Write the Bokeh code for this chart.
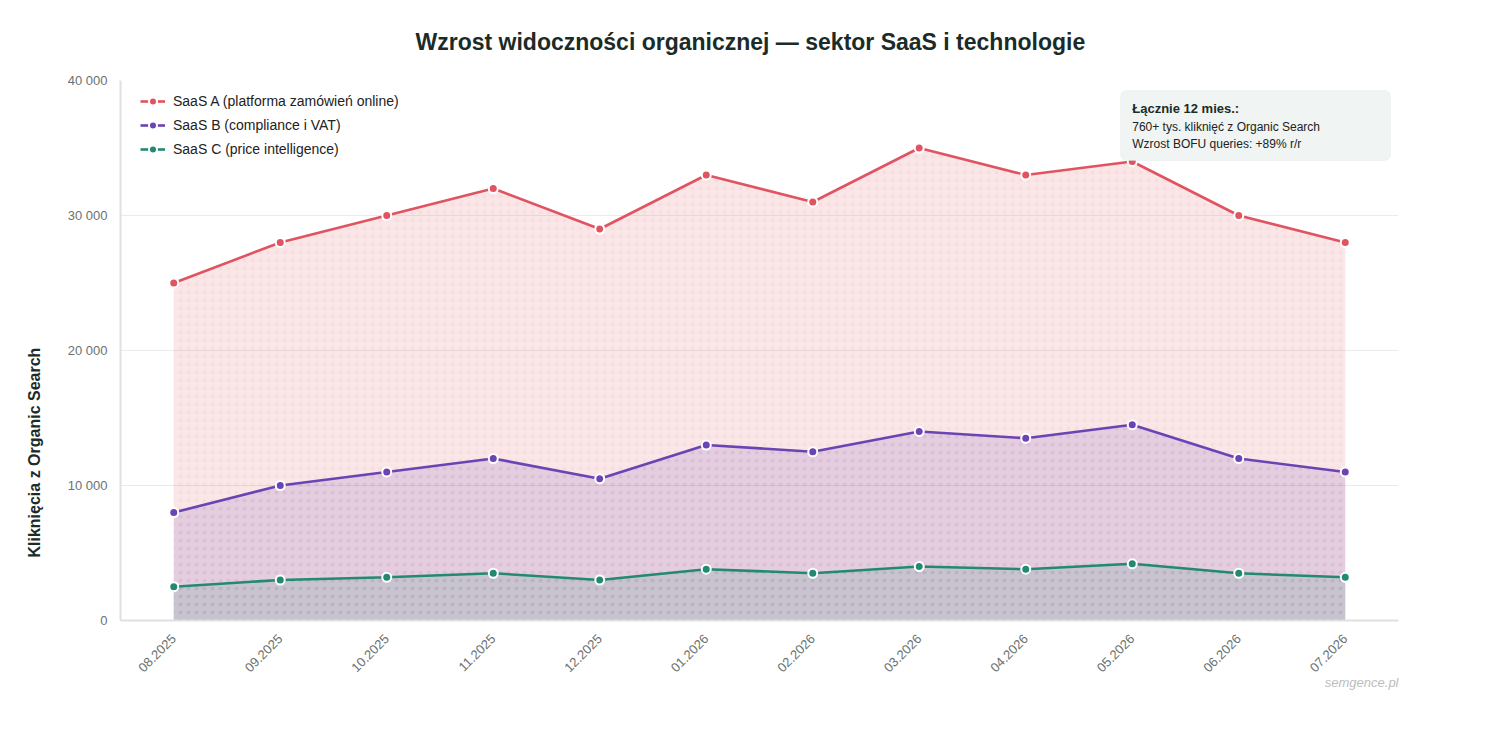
from math import pi
from bokeh.plotting import figure
from bokeh.models import (ColumnDataSource, Range1d, FixedTicker, Legend, LegendItem,
                          BoxAnnotation, Label, Title)
from bokeh.embed import file_html
from bokeh.resources import INLINE

# data
months = ["08.2025", "09.2025", "10.2025", "11.2025", "12.2025", "01.2026",
          "02.2026", "03.2026", "04.2026", "05.2026", "06.2026", "07.2026"]
saas_a = [25000, 28000, 30000, 32000, 29000, 33000, 31000, 35000, 33000, 34000, 30000, 28000]
saas_b = [8000, 10000, 11000, 12000, 10500, 13000, 12500, 14000, 13500, 14500, 12000, 11000]
saas_c = [2500, 3000, 3200, 3500, 3000, 3800, 3500, 4000, 3800, 4200, 3500, 3200]
y_ticks = [0, 10000, 20000, 30000, 40000]
y_tick_labels = ["0", "10 000", "20 000", "30 000", "40 000"]

series_names = ["SaaS A (platforma zamówień online)",
                "SaaS B (compliance i VAT)",
                "SaaS C (price intelligence)"]
colors = ["#e05461", "#6a44b4", "#228a70"]

note_title = "Łącznie 12 mies.:"
note_lines = ["760+ tys. kliknięć z Organic Search",
              "Wzrost BOFU queries: +89% r/r"]

FONT = "Liberation Sans"

x = list(range(len(months)))
src = ColumnDataSource(data=dict(x=x, a=saas_a, b=saas_b, c=saas_c))

p = figure(width=1500, height=750,
           x_range=Range1d(-0.5, len(months) - 0.5),
           y_range=Range1d(0, 40000),
           output_backend="svg", toolbar_location=None,
           min_border_left=120, min_border_right=102,
           min_border_top=80, min_border_bottom=130)

p.title.text = "Wzrost widoczności organicznej — sektor SaaS i technologie"
p.title.align = "left"
p.title.offset = 295
p.title.text_font = FONT
p.title.text_font_size = "23px"
p.title.text_color = "#1b2b27"
p.title.standoff = 52

p.outline_line_color = None
p.xgrid.grid_line_color = None
p.ygrid.grid_line_color = "#ebebeb"
p.ygrid.ticker = FixedTicker(ticks=y_ticks)

# areas from zero, overlapping
alphas = [0.15, 0.15, 0.14]
for col, c, a in zip(["a", "b", "c"], colors, alphas):
    p.varea(x="x", y1=0, y2=col, source=src, fill_color=c, fill_alpha=a,
            hatch_pattern=".", hatch_color=c, hatch_alpha=0.06, hatch_scale=8)

lines = []
for col, c in zip(["a", "b", "c"], colors):
    lines.append(p.line(x="x", y=col, source=src, line_color=c, line_width=2.6))
dots = []
for col, c in zip(["a", "b", "c"], colors):
    dots.append(p.scatter(x="x", y=col, source=src, size=9, fill_color=c,
                          line_color="white", line_width=2))

legend = Legend(items=[LegendItem(label=n, renderers=[l, d])
                       for n, l, d in zip(series_names, lines, dots)],
                location=(20, 461), border_line_color=None,
                background_fill_alpha=0, glyph_width=25, glyph_height=20,
                label_standoff=8, spacing=4, padding=10, margin=0,
                label_text_font=FONT, label_text_font_size="14px",
                label_text_color="#222222")
p.add_layout(legend)

# summary box
box = BoxAnnotation(left=8.89, right=11.425, top=39260, bottom=34075,
                    fill_color="#f0f4f3", fill_alpha=1,
                    line_color="#e1e6e4", line_width=1, border_radius=6)
p.add_layout(box)
p.add_layout(Label(x=9.0, y=37930, text=note_title, text_font=FONT,
                   text_font_style="bold", text_font_size="13px",
                   text_baseline="middle", text_color="#1b2b27"))
for yy, t in zip([36590, 35330], note_lines):
    p.add_layout(Label(x=9.0, y=yy, text=t, text_font=FONT,
                       text_font_size="12px", text_baseline="middle",
                       text_color="#222222"))

# axes
p.yaxis.ticker = FixedTicker(ticks=y_ticks)
p.yaxis.major_label_overrides = dict(zip(y_ticks, y_tick_labels))

p.xaxis.ticker = FixedTicker(ticks=x)
p.xaxis.major_label_overrides = dict(zip(x, months))
p.xaxis.major_label_orientation = pi / 4

for ax in (p.xaxis, p.yaxis):
    ax.axis_line_color = "#dde2e1"
    ax.axis_line_width = 2
    ax.major_tick_line_color = None
    ax.minor_tick_line_color = None
    ax.major_label_text_font = FONT
    ax.major_label_text_color = "#6a7270"
p.yaxis.major_label_standoff = 7
p.xaxis.major_label_standoff = 10
p.yaxis.major_label_text_font_size = "13px"
p.xaxis.major_label_text_font_size = "13px"

# y axis title, sitting below the frame centre as in the reference
p.add_layout(Title(text="Kliknięcia z Organic Search", align="left", offset=63,
                   text_font=FONT, text_font_style="bold", text_font_size="16px",
                   text_color="#1b2b27", standoff=44), "left")

p.add_layout(Title(text="semgence.pl", align="right", text_font=FONT,
                   text_font_style="italic", text_font_size="13px",
                   text_color="#bdbdbd", standoff=-14), "below")

open("out.html", "w").write(file_html(p, INLINE))
